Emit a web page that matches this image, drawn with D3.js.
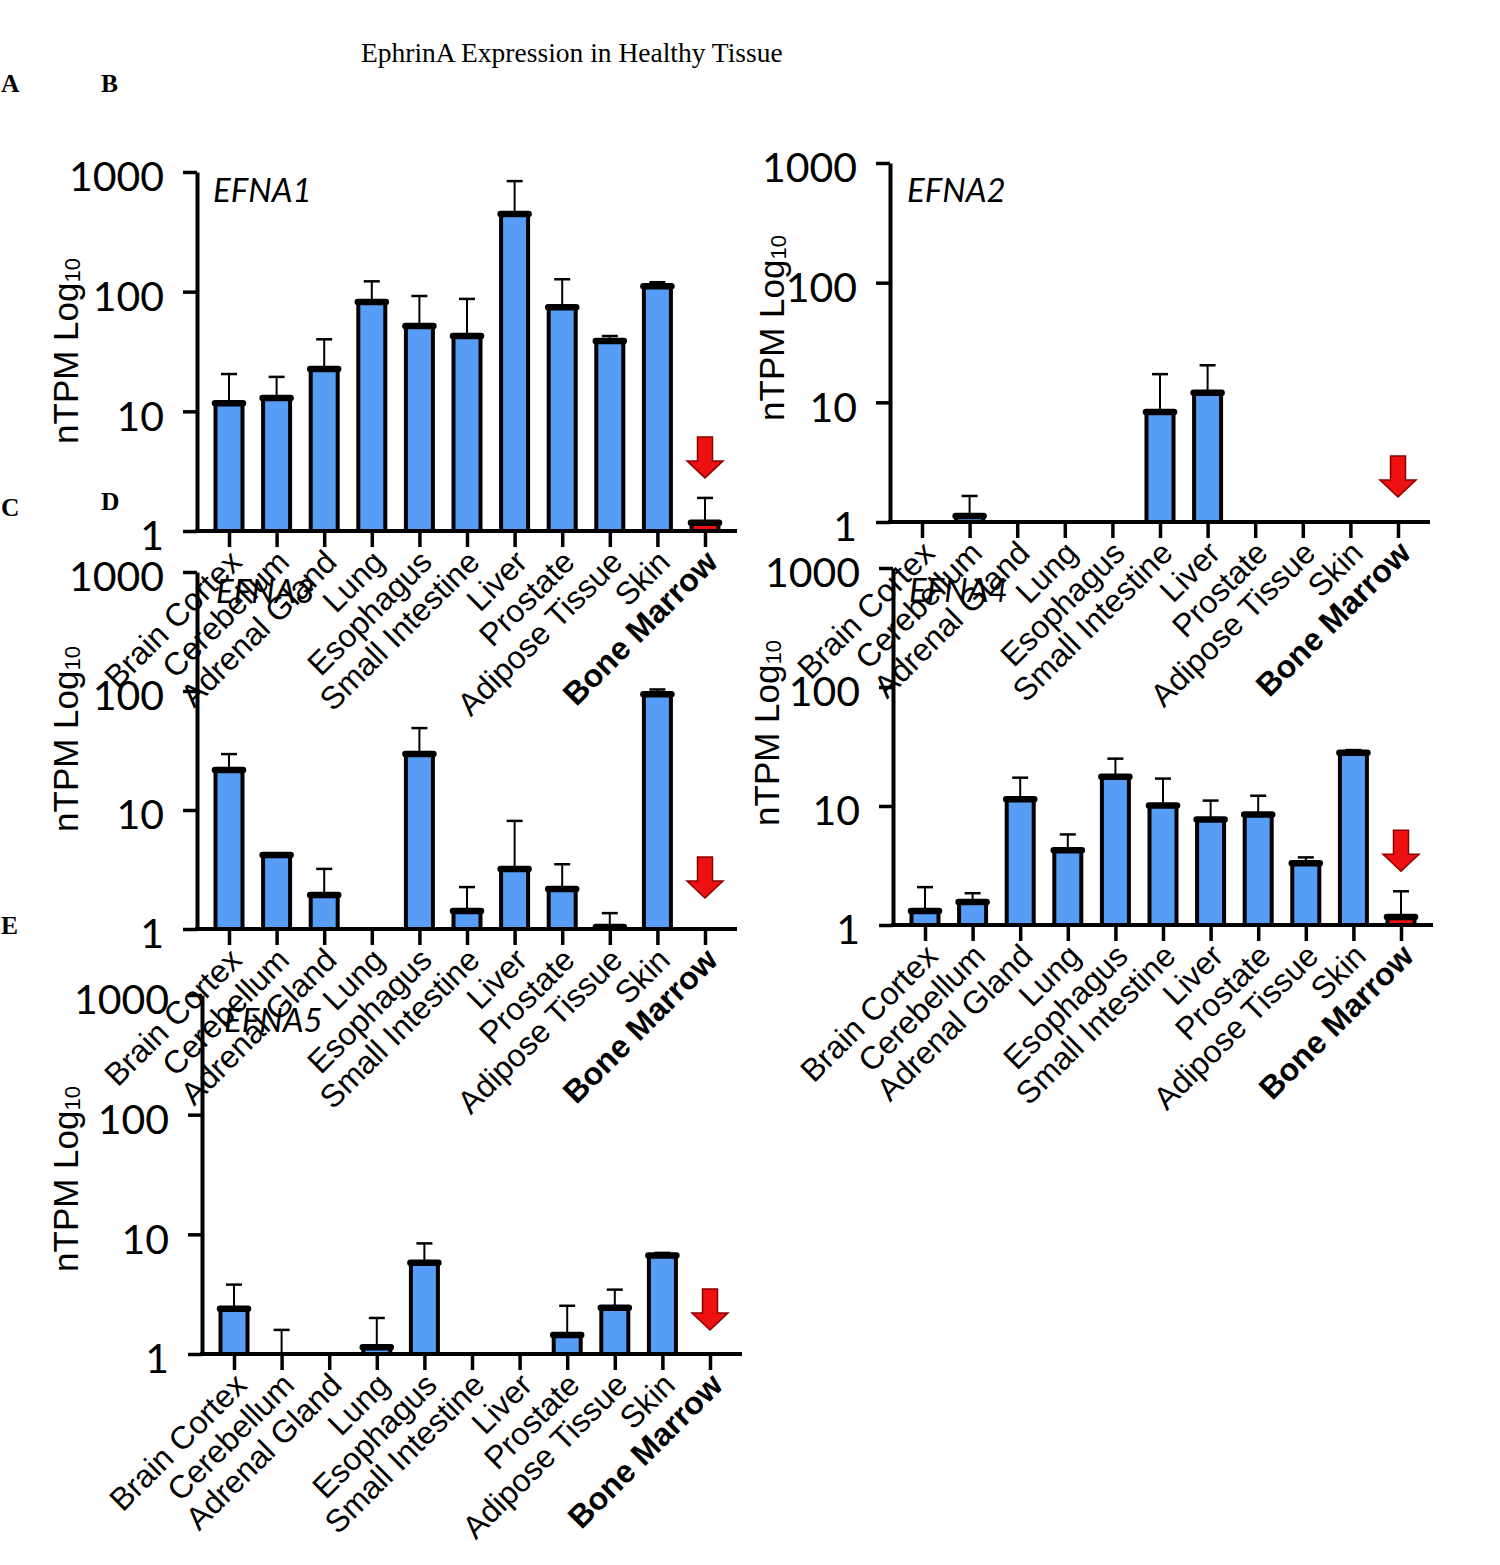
<!DOCTYPE html>
<html>
<meta charset="utf-8">
<script src="https://d3js.org/d3.v7.min.js"></script>
<style>
  body { margin: 0; background: #fff; }
</style>
<body>
<div id="my_dataviz"></div>
<script>

// data (nTPM, null = no bar / no error bar)
var tissues = ["Brain Cortex", "Cerebellum", "Adrenal Gland", "Lung", "Esophagus",
               "Small Intestine", "Liver", "Prostate", "Adipose Tissue", "Skin", "Bone Marrow"];
var genes = ["EFNA1", "EFNA2", "EFNA3", "EFNA4", "EFNA5"];
var yTicks = [1, 10, 100, 1000];
var panelLetters = ["A", "B", "C", "D", "E"];

var efna1Mean = [11.7, 12.9, 22.6, 82, 51.6, 42.6, 445, 74, 38.7, 111, 1.17];
var efna1Err  = [20.5, 19.4, 40, 122, 92, 87, 839, 127, 42.6, 120, 1.89];
var efna2Mean = [null, 1.12, null, null, null, 8.3, 12, null, null, null, null];
var efna2Err  = [null, 1.65, null, null, null, 17.2, 20.4, null, null, null, null];
var efna3Mean = [21.7, 4.18, 1.93, null, 29.5, 1.42, 3.2, 2.17, 1.04, 94, null];
var efna3Err  = [29.5, null, 3.2, null, 48.8, 2.25, 8.1, 3.5, 1.36, 103, null];
var efna4Mean = [1.31, 1.56, 11.4, 4.24, 17.6, 10.1, 7.7, 8.5, 3.3, 28, 1.17];
var efna4Err  = [2.08, 1.85, 17.3, 5.77, 25, 17, 11.1, 12.2, 3.7, 29.5, 1.92];
var efna5Mean = [2.39, null, null, 1.14, 5.8, null, null, 1.44, 2.44, 6.66, null];
var efna5Err  = [3.8, 1.59, null, 2.0, 8.4, null, null, 2.53, 3.45, 7.0, null];

var means = [efna1Mean, efna2Mean, efna3Mean, efna4Mean, efna5Mean];
var errs  = [efna1Err, efna2Err, efna3Err, efna4Err, efna5Err];
var highlight = "Bone Marrow";

// panel placement on the page
var layout = [
  {ox: 197, y1: 531,  y1000: 172, titleDx: 16, titleDy: 30, labelX: 78,  labelY: 351,  arrowGap: 20, letter: [1, 92]},
  {ox: 890, y1: 522,  y1000: 163, titleDx: 17, titleDy: 39, labelX: 784, labelY: 328,  arrowGap: 25, letter: [101, 92]},
  {ox: 197, y1: 929,  y1000: 572, titleDx: 19, titleDy: 31, labelX: 78,  labelY: 739,  arrowGap: 31, letter: [1, 516]},
  {ox: 893, y1: 925,  y1000: 568, titleDx: 16, titleDy: 34, labelX: 779, labelY: 733,  arrowGap: 20, letter: [101, 510]},
  {ox: 202, y1: 1354, y1000: 995, titleDx: 22, titleDy: 37, labelX: 78,  labelY: 1179, arrowGap: 24, letter: [1, 934]}
];

var axisLen = 540, barW = 27, blue = "#579df5", red = "#ee1111";

var svg = d3.select("#my_dataviz")
  .append("svg")
    .attr("width", 1500)
    .attr("height", 1565)
    .style("background", "#fff");

svg.append("text")
  .attr("x", 361).attr("y", 62)
  .attr("font-family", "Liberation Serif, serif")
  .attr("font-size", "27.5px")
  .text("EphrinA Expression in Healthy Tissue");

genes.forEach(function(gene, i) {
  var L = layout[i];
  var rows = tissues.map(function(t, j) { return {t: t, v: means[i][j], e: errs[i][j]}; });

  var x = d3.scalePoint().domain(tissues).range([L.ox + 32, L.ox + 508]);
  var y = d3.scaleLog().domain([1, 1000]).range([L.y1, L.y1000]);

  var g = svg.append("g");

  // error bars (upper only)
  var eb = g.append("g").selectAll("g")
    .data(rows.filter(function(d) { return d.e != null; }))
    .enter().append("g");
  eb.append("line")
    .attr("x1", function(d) { return x(d.t); })
    .attr("x2", function(d) { return x(d.t); })
    .attr("y1", function(d) { return y(d.v || 1); })
    .attr("y2", function(d) { return y(d.e); })
    .attr("stroke", "#000").attr("stroke-width", 2);
  eb.append("line")
    .attr("x1", function(d) { return x(d.t) - 8; })
    .attr("x2", function(d) { return x(d.t) + 8; })
    .attr("y1", function(d) { return y(d.e); })
    .attr("y2", function(d) { return y(d.e); })
    .attr("stroke", "#000").attr("stroke-width", 2.5);

  // bars
  var bars = rows.filter(function(d) { return d.v != null; });
  g.append("g").selectAll("rect")
    .data(bars)
    .enter().append("rect")
      .attr("x", function(d) { return x(d.t) - barW / 2; })
      .attr("width", barW)
      .attr("y", function(d) { return y(d.v); })
      .attr("height", function(d) { return y(1) - y(d.v); })
      .attr("fill", function(d) { return d.t == highlight ? red : blue; })
      .attr("stroke", "#000").attr("stroke-width", 4);
  g.append("g").selectAll("line")
    .data(bars)
    .enter().append("line")
      .attr("x1", function(d) { return x(d.t) - 14; })
      .attr("x2", function(d) { return x(d.t) + 14; })
      .attr("y1", function(d) { return y(d.v); })
      .attr("y2", function(d) { return y(d.v); })
      .attr("stroke", "#000").attr("stroke-width", 6.5)
      .attr("stroke-linecap", "round");

  // x axis
  g.append("line")
    .attr("x1", L.ox - 2).attr("x2", L.ox + axisLen)
    .attr("y1", y(1)).attr("y2", y(1))
    .attr("stroke", "#000").attr("stroke-width", 4);
  var xa = g.append("g")
    .attr("transform", "translate(0," + y(1) + ")")
    .call(d3.axisBottom(x).tickSize(16).tickSizeOuter(0));
  xa.select(".domain").remove();
  xa.selectAll(".tick line").attr("stroke", "#000").attr("stroke-width", 3.5);
  xa.selectAll(".tick text")
    .attr("x", 0).attr("y", 0).attr("dy", 0)
    .attr("text-anchor", "end")
    .attr("transform", "translate(14,33) rotate(-45)")
    .attr("font-family", "Liberation Sans, Arial, sans-serif")
    .attr("font-size", "32px")
    .attr("font-weight", function(d) { return d == highlight ? "bold" : "normal"; })
    .attr("fill", "#000");

  // y axis
  var ya = g.append("g")
    .attr("transform", "translate(" + L.ox + ",0)")
    .call(d3.axisLeft(y).tickValues(yTicks).tickFormat(d3.format("d")).tickSize(14).tickSizeOuter(0));
  ya.select(".domain").attr("stroke", "#000").attr("stroke-width", 4);
  ya.selectAll(".tick line").attr("stroke", "#000").attr("stroke-width", 3.5);
  ya.selectAll(".tick text")
    .attr("x", -33).attr("dy", "0.46em")
    .attr("font-family", "Lato, sans-serif")
    .attr("font-size", "41px")
    .attr("fill", "#000");

  // y label
  var yl = g.append("text")
    .attr("transform", "translate(" + L.labelX + "," + L.labelY + ") rotate(-90)")
    .attr("text-anchor", "middle")
    .attr("font-family", "Liberation Sans, Arial, sans-serif")
    .attr("font-size", "35px");
  yl.append("tspan").text("nTPM Log");
  yl.append("tspan").attr("font-size", "22px").attr("dy", 2).text("10");

  // gene title
  g.append("text")
    .attr("x", L.ox + L.titleDx).attr("y", L.y1000 + L.titleDy)
    .attr("font-family", "Lato, sans-serif")
    .attr("font-style", "italic")
    .attr("font-size", "33px")
    .text(gene);

  // red arrow over bone marrow
  var hm = rows[tissues.indexOf(highlight)];
  var ax = x(highlight), tip = y(Math.max(hm.e || 1, hm.v || 1, 1)) - L.arrowGap;
  var arrow = d3.path();
  arrow.moveTo(ax - 7.5, tip - 41);
  arrow.lineTo(ax + 7.5, tip - 41);
  arrow.lineTo(ax + 7.5, tip - 17);
  arrow.lineTo(ax + 18, tip - 17);
  arrow.lineTo(ax, tip);
  arrow.lineTo(ax - 18, tip - 17);
  arrow.lineTo(ax - 7.5, tip - 17);
  arrow.closePath();
  g.append("path")
    .attr("d", arrow.toString())
    .attr("fill", red)
    .attr("stroke", "#8a0000").attr("stroke-width", 1.5);

  // panel letter
  svg.append("text")
    .attr("x", L.letter[0]).attr("y", L.letter[1])
    .attr("font-family", "Liberation Serif, serif")
    .attr("font-weight", "bold")
    .attr("font-size", "25.5px")
    .text(panelLetters[i]);
});

</script>
</body>
</html>
